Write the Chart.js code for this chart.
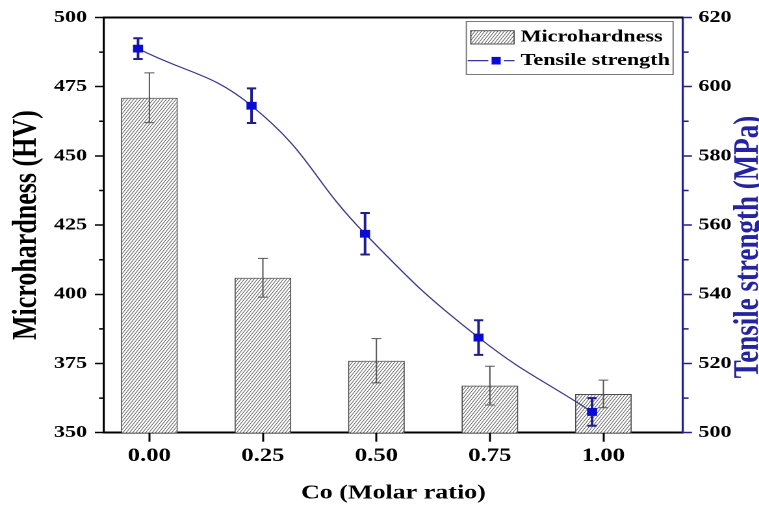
<!DOCTYPE html>
<html>
<head>
<meta charset="utf-8">
<script src="https://cdn.jsdelivr.net/npm/chart.js@4.4.1/dist/chart.umd.min.js"></script>
<style>
  html, body { margin: 0; padding: 0; background: #fff; overflow: hidden; }
  #wrap { position: relative; width: 584px; height: 506px; transform: scaleX(1.2997); transform-origin: 0 0; }
</style>
</head>
<body>
<div id="wrap"><canvas id="chart1"></canvas></div>
<script>
(function () {
  "use strict";

  // categories and axis ticks
  var ratios = [0, 0.25, 0.5, 0.75, 1.0];
  var xTicks = [0, 0.25, 0.5, 0.75, 1.0];
  var hvTicks = [350, 375, 400, 425, 450, 475, 500];
  var mpaTicks = [500, 520, 540, 560, 580, 600, 620];

  // microhardness (HV) and its error
  var hardness = [471, 406, 376, 367, 364];
  var hardnessErr = [9, 7, 8, 7, 5];

  // tensile strength (MPa), markers sit a little left of each bar
  var strengthX = [-0.025, 0.225, 0.475, 0.725, 0.975];
  var strength = [611, 594.5, 557.5, 527.5, 506];
  var strengthErr = [3, 5, 6, 5, 4];

  var serif = "'Liberation Serif', 'Times New Roman', Times, serif";
  var navy = '#1e1e8e';

  // diagonal hatch for the bars
  function hatch() {
    var c = document.createElement('canvas');
    c.width = 5; c.height = 8;
    var g = c.getContext('2d');
    g.fillStyle = '#fff';
    g.fillRect(0, 0, 5, 8);
    g.strokeStyle = '#505050';
    g.lineWidth = 1.15;
    g.beginPath();
    g.moveTo(-5, 16); g.lineTo(10, -8);
    g.moveTo(0, 16); g.lineTo(15, -8);
    g.moveTo(-10, 16); g.lineTo(5, -8);
    g.stroke();
    var p = g.createPattern(c, 'repeat');
    p.setTransform(new DOMMatrix([0.5, 0, 0, 0.5, 0, 0]));
    return p;
  }
  var hatchFill = hatch();

  function drawErr(c, xs, ys, xv, yv, ev, color, width, cap) {
    c.save();
    c.strokeStyle = color;
    c.lineWidth = width;
    c.beginPath();
    for (var i = 0; i < xv.length; i++) {
      var x = xs.getPixelForValue(xv[i]);
      var y1 = ys.getPixelForValue(yv[i] + ev[i]);
      var y2 = ys.getPixelForValue(yv[i] - ev[i]);
      c.moveTo(x, y1); c.lineTo(x, y2);
      c.moveTo(x - cap, y1); c.lineTo(x + cap, y1);
      c.moveTo(x - cap, y2); c.lineTo(x + cap, y2);
    }
    c.stroke();
    c.restore();
  }

  function minorTicks(c, scale, values, x0, len, color) {
    c.save();
    c.strokeStyle = color;
    c.lineWidth = 1.5;
    c.beginPath();
    for (var i = 0; i < values.length - 1; i++) {
      var y = scale.getPixelForValue((values[i] + values[i + 1]) / 2);
      c.moveTo(x0, y); c.lineTo(x0 + len, y);
    }
    c.stroke();
    c.restore();
  }

  var errorBars = {
    id: 'errorBars',
    afterDatasetDraw: function (chart, args) {
      if (args.meta.type === 'bar') {
        drawErr(chart.ctx, chart.scales.x, chart.scales.y, ratios, hardness, hardnessErr, '#555', 1, 3.8);
      }
    },
    beforeDatasetDraw: function (chart, args) {
      if (args.meta.type === 'line') {
        drawErr(chart.ctx, chart.scales.x, chart.scales.y2, strengthX, strength, strengthErr, navy, 2, 3.6);
      }
    }
  };

  // frame top, minor ticks, right title and the boxed legend
  var extras = {
    id: 'extras',
    afterDraw: function (chart) {
      var c = chart.ctx, a = chart.chartArea;
      c.save();
      c.strokeStyle = '#000';
      c.lineWidth = 2;
      c.beginPath();
      c.moveTo(a.left, a.top); c.lineTo(a.right, a.top);
      c.stroke();
      c.restore();

      minorTicks(c, chart.scales.y, hvTicks, a.left, -3.8, '#000');
      minorTicks(c, chart.scales.y2, mpaTicks, a.right, 4.4, navy);

      c.save();
      c.translate(576, 247);
      c.rotate(-Math.PI / 2);
      c.font = 'bold 27px ' + serif;
      c.fillStyle = '#2323a3';
      c.textAlign = 'center';
      c.textBaseline = 'middle';
      c.fillText('Tensile strength (MPa)', 0, 0);
      c.restore();

      var ds = chart.data.datasets;
      c.save();
      c.font = 'bold 17px ' + serif;
      var maxW = Math.max(c.measureText(ds[0].label).width, c.measureText(ds[1].label).width);
      var right = a.right - 7.5, top = a.top + 4;
      var left = right - (41.8 + maxW + 2.5);
      c.fillStyle = '#fff';
      c.fillRect(left, top, right - left, 53);
      c.strokeStyle = '#7a7a7a';
      c.lineWidth = 1;
      c.strokeRect(left, top, right - left, 53);

      // bar entry
      c.fillStyle = hatchFill;
      c.fillRect(left + 3.4, top + 9.2, 33.3, 13.3);
      c.strokeStyle = '#555';
      c.strokeRect(left + 3.4, top + 9.2, 33.3, 13.3);
      // line entry
      var ly = top + 39.2, mx = left + 22.9;
      c.strokeStyle = navy;
      c.lineWidth = 1.2;
      c.beginPath();
      c.moveTo(left + 1, ly); c.lineTo(mx - 6, ly);
      c.moveTo(mx + 6, ly); c.lineTo(left + 37, ly);
      c.stroke();
      c.fillStyle = '#0b0bd6';
      c.fillRect(mx - 3.5, ly - 3.8, 7, 7.6);

      c.fillStyle = '#000';
      c.textAlign = 'left';
      c.textBaseline = 'middle';
      c.fillText(ds[1].label, left + 41.8, top + 15.8);
      c.fillText(ds[0].label, left + 41.8, ly);
      c.restore();
    }
  };

  function draw() {
    var tickFont = { family: serif, size: 17, weight: 'bold' };
    var ctx = document.getElementById('chart1').getContext('2d');

    var myChart = new Chart(ctx, {
      type: 'bar',
      data: {
        datasets: [{
          type: 'line',
          label: 'Tensile strength',
          data: strengthX.map(function (x, i) { return { x: x, y: strength[i] }; }),
          yAxisID: 'y2',
          borderColor: '#3a3a88',
          borderWidth: 1.1,
          tension: 0.45,
          pointStyle: 'rect',
          pointRadius: 5.5,
          pointBackgroundColor: '#0b0bd6',
          pointBorderColor: '#0b0bd6',
          pointBorderWidth: 0,
          order: 0
        }, {
          label: 'Microhardness',
          data: ratios.map(function (x, i) { return { x: x, y: hardness[i] }; }),
          yAxisID: 'y',
          backgroundColor: hatchFill,
          borderColor: '#4a4a4a',
          borderWidth: 1,
          barPercentage: 0.5,
          categoryPercentage: 1,
          order: 1
        }]
      },
      options: {
        responsive: true,
        maintainAspectRatio: false,
        devicePixelRatio: 2,
        animation: false,
        layout: { padding: { top: 17.5, left: 0, right: 0, bottom: 0 } },
        plugins: {
          legend: { display: false },
          tooltip: { enabled: false }
        },
        scales: {
          x: {
            type: 'linear',
            position: 'bottom',
            min: -0.1,
            max: 1.175,
            offset: false,
            afterBuildTicks: function (s) { s.ticks = xTicks.map(function (v) { return { value: v }; }); },
            afterFit: function (s) { s.height = 73.3; },
            ticks: {
              color: '#000',
              font: { family: serif, size: 19, weight: 'bold' },
              padding: 3,
              maxRotation: 0,
              callback: function (v) { return Number(v).toFixed(2); }
            },
            grid: { display: true, drawOnChartArea: false, offset: false, tickLength: 9, tickWidth: 1.5, tickColor: '#000' },
            border: { display: true, color: '#000', width: 2 },
            title: {
              display: true,
              text: 'Co (Molar ratio)',
              color: '#000',
              font: { family: serif, size: 20, weight: 'bold', lineHeight: 1 },
              padding: { top: 0, bottom: 2.5 }
            }
          },
          y: {
            type: 'linear',
            position: 'left',
            min: 350,
            max: 500,
            afterBuildTicks: function (s) { s.ticks = hvTicks.map(function (v) { return { value: v }; }); },
            afterFit: function (s) { s.width = 80; },
            ticks: { color: '#000', font: tickFont, padding: 6 },
            grid: { display: true, drawOnChartArea: false, tickLength: 7, tickWidth: 1.5, tickColor: '#000' },
            border: { display: true, color: '#000', width: 1.6 },
            title: {
              display: true,
              text: 'Microhardness (HV)',
              color: '#000',
              font: { family: serif, size: 26, weight: 'bold', lineHeight: 1 },
              padding: { top: 8, bottom: 0 }
            }
          },
          y2: {
            type: 'linear',
            position: 'right',
            min: 500,
            max: 620,
            afterBuildTicks: function (s) { s.ticks = mpaTicks.map(function (v) { return { value: v }; }); },
            afterFit: function (s) { s.width = 58.6; },
            ticks: { color: '#000', font: tickFont, padding: 5 },
            grid: { display: true, drawOnChartArea: false, tickLength: 7, tickWidth: 1.5, tickColor: navy },
            border: { display: true, color: navy, width: 1.6 }
          }
        }
      },
      plugins: [errorBars, extras]
    });
  }

  // make sure the serif face is ready before the canvas paints text
  if (document.fonts && document.fonts.load) {
    Promise.all([
      document.fonts.load('bold 17px "Liberation Serif"'),
      document.fonts.load('bold 26px "Liberation Serif"')
    ]).then(draw, draw);
  } else {
    draw();
  }
})();
</script>
</body>
</html>
